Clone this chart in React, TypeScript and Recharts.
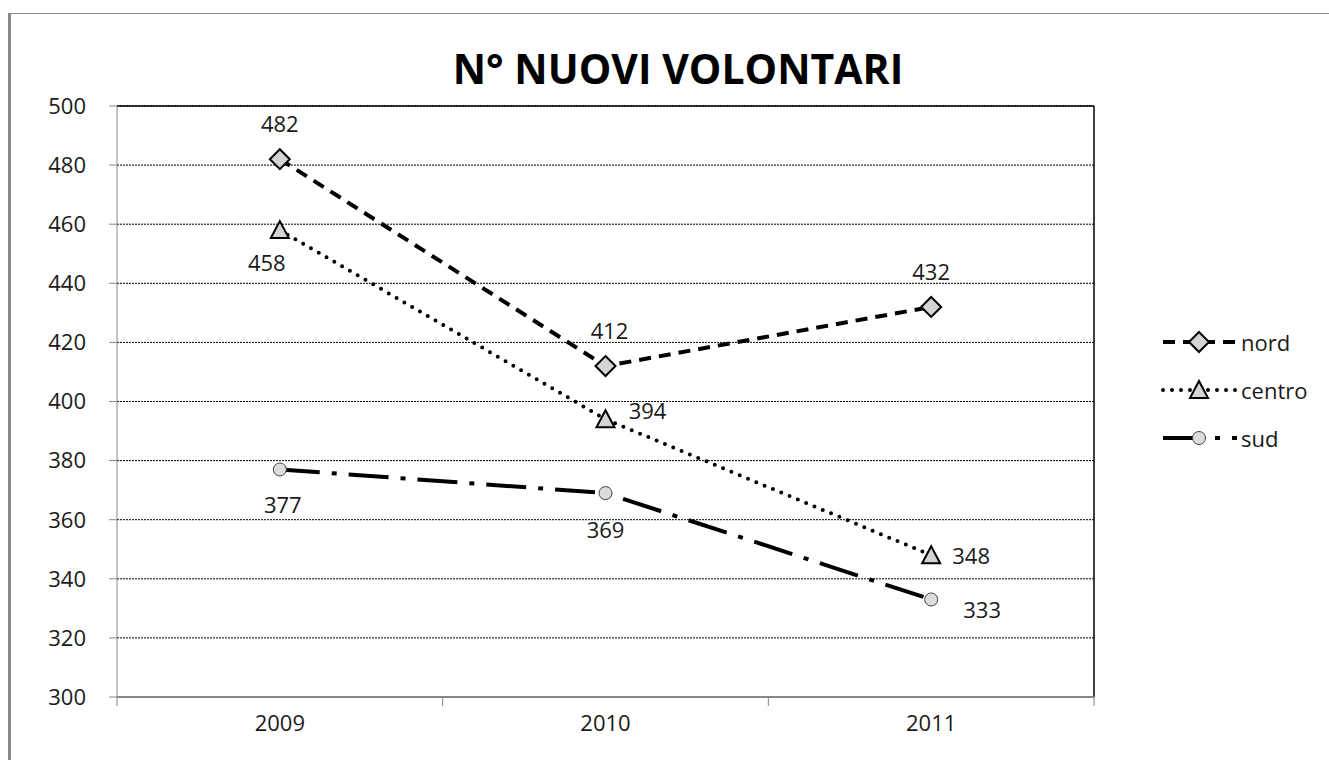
import React from 'react';
import { LineChart, Line, XAxis, YAxis, CartesianGrid, ReferenceLine, LabelList } from 'recharts';

const categories = ['2009', '2010', '2011'];
const nordValues = [482, 412, 432];
const centroValues = [458, 394, 348];
const sudValues = [377, 369, 333];
const yTicks = [300, 320, 340, 360, 380, 400, 420, 440, 460, 480, 500];
const title = 'N° NUOVI VOLONTARI';

// label placement offsets (styling, relative to each point)
const nordLabelOffsets = [{ dx: 0, dy: -36 }, { dx: 4, dy: -36 }, { dx: 0, dy: -36 }];
const centroLabelOffsets = [{ dx: -13, dy: 32 }, { dx: 42, dy: -9 }, { dx: 40, dy: 0 }];
const sudLabelOffsets = [{ dx: 3, dy: 35 }, { dx: 0, dy: 36 }, { dx: 51, dy: 10 }];

const data = categories.map((c, i) => ({
  x: i + 0.5,
  cat: c,
  nord: nordValues[i],
  centro: centroValues[i],
  sud: sudValues[i],
}));

const xTicks: number[] = [];
for (let i = 0; i <= categories.length; i++) {
  xTicks.push(i);
  if (i < categories.length) xTicks.push(i + 0.5);
}

const FONT = '"Open Sans", sans-serif';
const TEXT = '#1a1a1a';
const AXIS = '#868686';
const MARKER_FILL = '#d4d4d4';
const FS = 22;

const Diamond = (p: any) => {
  const { cx, cy, index } = p;
  const r = 10;
  return (
    <path
      key={`nd-${index}`}
      d={`M${cx},${cy - r}L${cx + r},${cy}L${cx},${cy + r}L${cx - r},${cy}Z`}
      fill={MARKER_FILL}
      stroke="#000"
      strokeWidth={2}
    />
  );
};

const Triangle = (p: any) => {
  const { cx, cy, index } = p;
  return (
    <path
      key={`ct-${index}`}
      d={`M${cx},${cy - 9}L${cx + 9},${cy + 8}L${cx - 9},${cy + 8}Z`}
      fill={MARKER_FILL}
      stroke="#000"
      strokeWidth={2}
    />
  );
};

const Circle = (p: any) => {
  const { cx, cy, index } = p;
  return <circle key={`sc-${index}`} cx={cx} cy={cy} r={6.5} fill="#dcdcdc" stroke="#444" strokeWidth={1} />;
};

const makeLabel = (offsets: { dx: number; dy: number }[]) => (p: any) => {
  const { x, y, value, index } = p;
  const o = offsets[index] || { dx: 0, dy: 0 };
  return (
    <text
      key={`lbl-${index}`}
      x={x + o.dx}
      y={y + o.dy}
      textAnchor="middle"
      dominantBaseline="central"
      fontFamily={FONT}
      fontSize={FS}
      fill={TEXT}
    >
      {value}
    </text>
  );
};

const XTick = (p: any) => {
  const { x, y, payload } = p;
  const v = payload.value;
  if (Number.isInteger(v)) {
    return <line x1={x} x2={x} y1={y} y2={y + 9} stroke={AXIS} strokeWidth={1} />;
  }
  return (
    <text x={x} y={y + 25} textAnchor="middle" dominantBaseline="central" fontFamily={FONT} fontSize={FS} fill={TEXT}>
      {categories[Math.floor(v)]}
    </text>
  );
};

const series = [
  { key: 'nord', name: 'nord', dash: '12 8', cap: 'butt', marker: 'diamond' },
  { key: 'centro', name: 'centro', dash: '0 9', cap: 'round', marker: 'triangle' },
  { key: 'sud', name: 'sud', dash: '40 12 5 12', cap: 'butt', marker: 'circle' },
];

const LegendMarker = ({ kind }: { kind: string }) => {
  if (kind === 'diamond') return <Diamond cx={38} cy={12} index={0} />;
  if (kind === 'triangle') return <Triangle cx={38} cy={12} index={0} />;
  return <Circle cx={38} cy={12} index={0} />;
};

export default function App() {
  return (
    <div style={{ position: 'absolute', left: 0, top: 0, width: 1329, height: 760, background: '#fff', overflow: 'hidden', fontFamily: FONT }}>
      <div
        style={{
          position: 'absolute',
          left: 8,
          top: 13,
          width: 1330,
          height: 760,
          borderLeft: '3px solid #888',
          borderTop: '1px solid #888',
        }}
      />
      <div
        style={{
          position: 'absolute',
          left: 378,
          top: 38,
          width: 600,
          textAlign: 'center',
          fontSize: 41,
          fontWeight: 700,
          color: '#000',
          lineHeight: '60px',
        }}
      >
        {title}
      </div>
      <div style={{ position: 'absolute', left: 0, top: 0 }}>
        <LineChart width={1329} height={760} data={data} margin={{ top: 106, right: 235, bottom: 33, left: 57 }}>
          <CartesianGrid vertical={false} stroke="#000" strokeDasharray="2 1" />
          <XAxis
            dataKey="x"
            type="number"
            domain={[0, categories.length]}
            ticks={xTicks}
            interval={0}
            tickLine={false}
            tickSize={0}
            tickMargin={0}
            height={30}
            axisLine={{ stroke: AXIS, strokeWidth: 2 }}
            tick={<XTick />}
          />
          <YAxis
            type="number"
            domain={[300, 500]}
            ticks={yTicks}
            interval={0}
            width={60}
            tickSize={8}
            tickMargin={23}
            axisLine={{ stroke: AXIS }}
            tickLine={{ stroke: AXIS }}
            tick={{ fontFamily: FONT, fontSize: FS, fill: TEXT }}
          />
          <ReferenceLine y={500} stroke="#000" strokeWidth={1.5} />
          <ReferenceLine x={categories.length} stroke="#000" strokeWidth={1.5} />
          <Line
            dataKey="nord"
            stroke="#000"
            strokeWidth={4}
            strokeDasharray="12 8"
            dot={Diamond}
            activeDot={false}
            isAnimationActive={false}
          >
            <LabelList dataKey="nord" content={makeLabel(nordLabelOffsets)} />
          </Line>
          <Line
            dataKey="centro"
            stroke="#000"
            strokeWidth={4}
            strokeDasharray="0 9"
            strokeLinecap="round"
            dot={Triangle}
            activeDot={false}
            isAnimationActive={false}
          >
            <LabelList dataKey="centro" content={makeLabel(centroLabelOffsets)} />
          </Line>
          <Line
            dataKey="sud"
            stroke="#000"
            strokeWidth={4}
            strokeDasharray="40 12 5 12"
            dot={Circle}
            activeDot={false}
            isAnimationActive={false}
          >
            <LabelList dataKey="sud" content={makeLabel(sudLabelOffsets)} />
          </Line>
        </LineChart>
      </div>
      <div style={{ position: 'absolute', left: 1161, top: 318 }}>
        {series.map((s) => (
          <div key={s.key} style={{ display: 'flex', alignItems: 'center', height: 48 }}>
            <svg width={78} height={24} style={{ display: 'block' }}>
              <line
                x1={2}
                x2={76}
                y1={12}
                y2={12}
                stroke="#000"
                strokeWidth={4}
                strokeDasharray={s.dash}
                strokeLinecap={s.cap as any}
              />
              <LegendMarker kind={s.marker} />
            </svg>
            <span style={{ fontSize: FS, color: TEXT, marginLeft: 2, lineHeight: '24px' }}>{s.name}</span>
          </div>
        ))}
      </div>
    </div>
  );
}
